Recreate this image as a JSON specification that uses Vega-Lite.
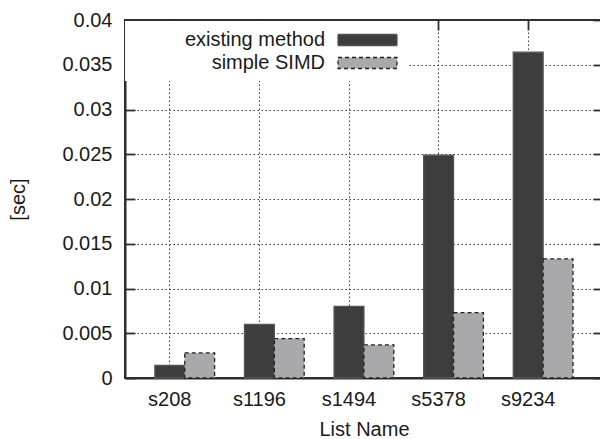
{
  "$schema": "https://vega.github.io/schema/vega-lite/v6.json",
  "width": 478,
  "height": 358,
  "autosize": "none",
  "padding": {"left": 125, "top": 20, "right": 0, "bottom": 61},
  "background": "white",
  "data": {
    "values": [
      {"list": "s208", "method": "existing method", "sec": 0.0014},
      {"list": "s208", "method": "simple SIMD", "sec": 0.0028},
      {"list": "s1196", "method": "existing method", "sec": 0.006},
      {"list": "s1196", "method": "simple SIMD", "sec": 0.0044},
      {"list": "s1494", "method": "existing method", "sec": 0.008},
      {"list": "s1494", "method": "simple SIMD", "sec": 0.0037},
      {"list": "s5378", "method": "existing method", "sec": 0.0249},
      {"list": "s5378", "method": "simple SIMD", "sec": 0.0073},
      {"list": "s9234", "method": "existing method", "sec": 0.0364},
      {"list": "s9234", "method": "simple SIMD", "sec": 0.0133}
    ]
  },
  "layer": [
    {
      "mark": {"type": "bar", "strokeWidth": 1.3},
      "encoding": {
        "x": {
          "field": "list",
          "type": "nominal",
          "sort": null,
          "scale": {"paddingInner": 0, "paddingOuter": 0.1674, "align": 0},
          "axis": {
            "orient": "bottom",
            "title": "List Name",
            "titleFontSize": 20,
            "titleFontWeight": "normal",
            "titlePadding": 10,
            "labelFontSize": 20,
            "labelAngle": 0,
            "labelPadding": 21,
            "tickSize": -10,
            "grid": true
          }
        },
        "xOffset": {
          "field": "method",
          "type": "nominal",
          "scale": {"domain": ["gap", "existing method", "simple SIMD"], "paddingInner": 0, "paddingOuter": 0}
        },
        "y": {
          "field": "sec",
          "type": "quantitative",
          "scale": {"domain": [0, 0.04], "nice": false},
          "axis": {
            "orient": "left",
            "title": "[sec]",
            "titleFontSize": 20,
            "titleFontWeight": "normal",
            "titlePadding": 33,
            "values": [0, 0.005, 0.01, 0.015, 0.02, 0.025, 0.03, 0.035, 0.04],
            "format": "~g",
            "labelFontSize": 20,
            "labelPadding": 23,
            "tickSize": -10,
            "grid": true
          }
        },
        "color": {
          "field": "method",
          "type": "nominal",
          "scale": {"domain": ["existing method", "simple SIMD"], "range": ["#3d3d3d", "#a9a9ab"]},
          "legend": {
            "title": null,
            "orient": "none",
            "legendX": 0,
            "legendY": 1,
            "padding": 8,
            "fillColor": "white",
            "symbolType": "M-1,-0.55H4.9V0.55H-1Z",
            "symbolSize": 400,
            "symbolStrokeWidth": 1.3,
            "symbolOffset": 204,
            "labelAlign": "right",
            "labelOffset": -34,
            "labelLimit": 400,
            "labelFontSize": 20,
            "labelExpr": "'         ' + datum.label",
            "rowPadding": 2
          }
        },
        "stroke": {
          "field": "method",
          "type": "nominal",
          "scale": {"domain": ["existing method", "simple SIMD"], "range": ["#555555", "#222222"]}
        },
        "strokeDash": {
          "field": "method",
          "type": "nominal",
          "scale": {"domain": ["existing method", "simple SIMD"], "range": [[1, 0], [4, 3]]}
        }
      }
    },
    {
      "mark": {"type": "bar", "opacity": 0},
      "encoding": {
        "x": {
          "field": "list",
          "type": "nominal",
          "sort": null,
          "axis": {"orient": "top", "title": null, "labels": false, "domain": false, "grid": false, "tickSize": -10}
        },
        "y": {
          "field": "sec",
          "type": "quantitative",
          "axis": {
            "orient": "right",
            "title": null,
            "labels": false,
            "domain": false,
            "grid": false,
            "values": [0, 0.005, 0.01, 0.015, 0.02, 0.025, 0.03, 0.035, 0.04],
            "tickSize": -10
          }
        }
      }
    }
  ],
  "resolve": {"axis": {"x": "independent", "y": "independent"}},
  "config": {
    "font": "Liberation Sans",
    "view": {"stroke": "#2e2e2e", "strokeWidth": 2},
    "axis": {
      "labelColor": "#1a1a1a",
      "titleColor": "#1a1a1a",
      "labelFont": "Liberation Sans",
      "titleFont": "Liberation Sans",
      "domainColor": "#2e2e2e",
      "domainWidth": 2,
      "tickColor": "#2e2e2e",
      "tickWidth": 1.8,
      "gridColor": "#3a3a3a",
      "gridDash": [1.5, 2.5],
      "gridWidth": 1,
      "gridOpacity": 1
    },
    "legend": {"labelFont": "Liberation Sans", "labelColor": "#1a1a1a"}
  }
}
